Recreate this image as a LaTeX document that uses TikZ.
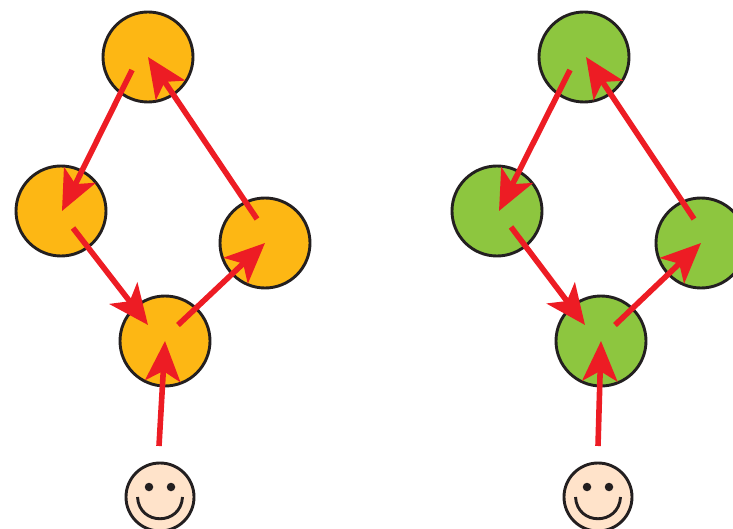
\documentclass[tikz,border=0pt]{standalone}
\usetikzlibrary{arrows.meta}
\definecolor{amberfill}{HTML}{FDB714}
\definecolor{leaffill}{HTML}{8DC63F}
\definecolor{arrowred}{HTML}{ED1C24}
\definecolor{inkline}{HTML}{231F20}
\definecolor{skinfill}{HTML}{FFE3CA}
\tikzset{
  stateamber/.style={circle,draw=inkline,line width=2.9pt,fill=amberfill,minimum size=90pt,inner sep=0pt,outer sep=0pt},
  stateleaf/.style={stateamber,fill=leaffill},
  faceball/.style={circle,draw=inkline,line width=2.9pt,fill=skinfill,minimum size=68pt,inner sep=0pt,outer sep=0pt},
  eyedot/.style={circle,fill=inkline,minimum size=8.5pt,inner sep=0pt,outer sep=0pt},
  flowarrow/.style={draw=arrowred,line width=5.6pt,-{Stealth[length=40pt,width=35pt,inset=10pt,fill=arrowred]}},
  smileline/.style={draw=inkline,line width=2.9pt}
}
\begin{document}
\begin{tikzpicture}[x=1pt,y=-1pt]
\useasboundingbox (0,0) rectangle (733,529);
\clip (0,0) rectangle (733,529);
% left group
\node[stateamber] (aT) at (148,57) {};
\node[stateamber] (aL) at (61,211) {};
\node[stateamber] (aR) at (265,243) {};
\node[stateamber] (aB) at (165,341) {};
\node[faceball] (aF) at (160,497) {};
\node[eyedot] (aE1) at (149,487) {};
\node[eyedot] (aE2) at (171,487) {};
\draw[smileline] (137.5,497) .. controls (139,526) and (181,526) .. (182.5,497);
% right group
\node[stateleaf] (bT) at (584,57) {};
\node[stateleaf] (bL) at (497,211) {};
\node[stateleaf] (bR) at (701,243) {};
\node[stateleaf] (bB) at (601,341) {};
\node[faceball] (bF) at (598,497) {};
\node[eyedot] (bE1) at (587,487) {};
\node[eyedot] (bE2) at (609,487) {};
\draw[smileline] (575.5,497) .. controls (577,526) and (619,526) .. (620.5,497);
% arrow anchors
\coordinate (a1) at (132,70);  \coordinate (a1e) at (62,211);
\coordinate (a2) at (73,228);  \coordinate (a2e) at (148,325);
\coordinate (a3) at (178,325); \coordinate (a3e) at (265,243);
\coordinate (a4) at (257,219); \coordinate (a4e) at (148,57);
\coordinate (a5) at (159,446); \coordinate (a5e) at (165,341);
\coordinate (b1) at (570,70);  \coordinate (b1e) at (499,211);
\coordinate (b2) at (511,227); \coordinate (b2e) at (585,325);
\coordinate (b3) at (615,325); \coordinate (b3e) at (701,243);
\coordinate (b4) at (694,219); \coordinate (b4e) at (586,57);
\coordinate (b5) at (598,446); \coordinate (b5e) at (601,341);
\foreach \p in {a,b}{
  \foreach \n in {1,...,5}{
    \draw[flowarrow] (\p\n) -- (\p\n e);
  }
}
\end{tikzpicture}
\end{document}
